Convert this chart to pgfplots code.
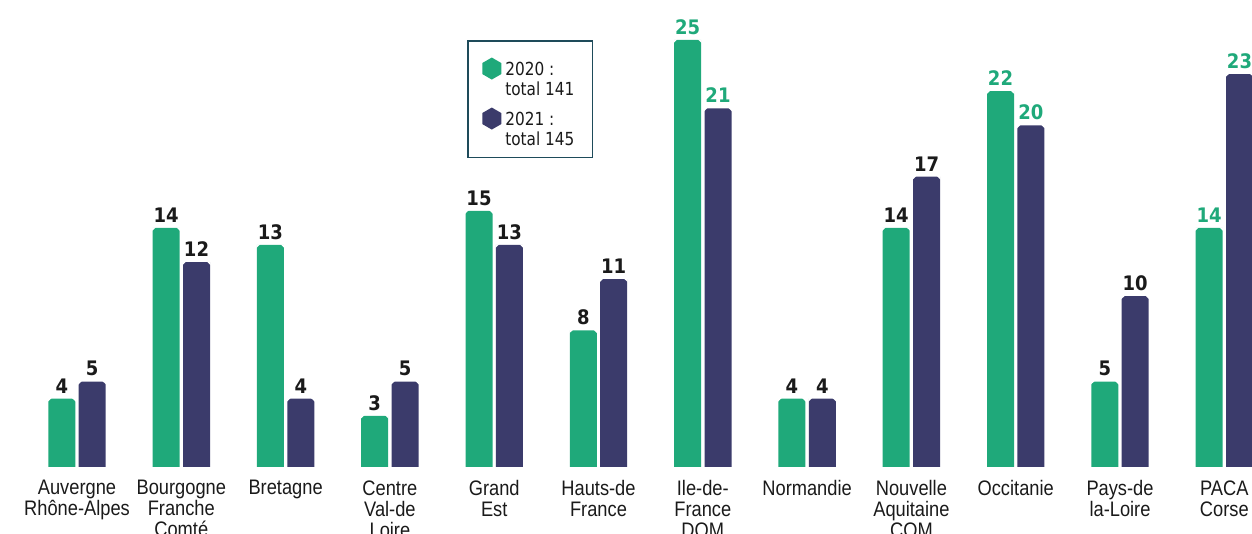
\documentclass[border=0pt]{standalone}
\usepackage{pgfplots}
\pgfplotsset{compat=1.18}
\usepackage{fontspec}
\setmainfont{Liberation Sans}
\newfontfamily\lab[FakeStretch=0.87]{Liberation Sans}
\newfontfamily\valfont[FakeStretch=0.9]{DejaVu Sans}
\newfontfamily\legfont[FakeStretch=0.85]{DejaVu Sans}
\definecolor{cg}{HTML}{1FA97A}
\definecolor{cp}{HTML}{3B3B6B}
\definecolor{cdark}{HTML}{1A1A1A}
\definecolor{cbord}{HTML}{1E4B5A}
\newcommand\chamfer[1]{%
  \pgfpathmoveto{\pgfpoint{#1pt-7pt}{0.3pt}}%
  \pgfpathlineto{\pgfpoint{#1pt-7pt}{-1.5pt}}%
  \pgfpathlineto{\pgfpoint{#1pt-5.1pt}{0.3pt}}%
  \pgfpathclose
  \pgfpathmoveto{\pgfpoint{#1pt+7pt}{0.3pt}}%
  \pgfpathlineto{\pgfpoint{#1pt+7pt}{-1.5pt}}%
  \pgfpathlineto{\pgfpoint{#1pt+5.1pt}{0.3pt}}%
  \pgfpathclose
  \pgfusepathqfill}
\pgfdeclareplotmark{chamG}{\chamfer{-7.6}}
\pgfdeclareplotmark{chamP}{\chamfer{7.6}}
\pgfplotsset{
  hexleg/.style={legend image code/.code={\fill[#1,shift={(5pt,3.3pt)}] (90:5.5pt)--(30:5.5pt)--(-30:5.5pt)--(-90:5.5pt)--(210:5.5pt)--(150:5.5pt)--cycle;}},
  barG/.style={ybar, bar width=13.5pt, bar shift=-7.6pt, fill=cg, draw=none},
  barP/.style={ybar, bar width=13.5pt, bar shift=7.6pt, fill=cp, draw=none},
  vlab/.style 2 args={nodes near coords, nodes near coords style={font=\valfont\bfseries\fontsize{10}{10}\selectfont, text=#1, anchor=south, inner sep=0pt, yshift=2.5pt, xshift=#2}},
}
\begin{document}
\begin{tikzpicture}
\useasboundingbox (0pt,-33.5pt) rectangle (626pt,233.5pt);
\clip (0pt,-33.5pt) rectangle (626pt,233.5pt);
\begin{axis}[
  scale only axis, width=626pt, height=233.5pt,
  xmin=-0.7383, xmax=11.2656, ymin=0, ymax=27.34,
  axis line style={draw=none},
  ytick=\empty,
  xtick={0,1,2,3,4,5,6,7,8,9,10,11},
  major tick length=0pt,
  /pgf/number format/assume math mode=true,
  xticklabels={{Auvergne\\Rhône-Alpes},{Bourgogne\\Franche\\Comté},{Bretagne},{Centre\\Val-de\\Loire},{Grand\\Est},{Hauts-de\\France},{Ile-de-\\France\\DOM},{Normandie},{Nouvelle\\Aquitaine\\COM},{Occitanie},{Pays-de\\la-Loire},{PACA\\Corse}},
  xticklabel style={font=\lab\fontsize{10.5}{10.5}\selectfont, text=cdark, align=center, anchor=north, inner sep=0pt, yshift=-6.5pt},
  clip=false,
  legend style={at={(0.373,0.914)}, anchor=north west, draw=cbord, line width=0.8pt, inner xsep=7pt, inner ysep=6.1pt, font=\legfont\fontsize{9}{10}\selectfont, text=cdark, row sep=0pt, nodes={inner ysep=0pt, text depth=}, cells={anchor=base west}},
]
\addplot[barG, vlab={cdark}{-7.6pt}, hexleg=cg] coordinates {(0,4)(1,14)(2,13)(3,3)(4,15)(5,8)(7,4)(8,14)(10,5)};
\addlegendentry{\rule[-2.2pt]{0pt}{13.2pt}2020 :}
\addlegendimage{empty legend}
\addlegendentry{\rule[-6.2pt]{0pt}{14pt}total 141}
\addplot[barP, vlab={cdark}{7.6pt}, hexleg=cp] coordinates {(0,5)(1,12)(2,4)(3,5)(4,13)(5,11)(7,4)(8,17)(10,10)};
\addlegendentry{\rule[-2.2pt]{0pt}{11pt}2021 :}
\addlegendimage{empty legend}
\addlegendentry{\rule{0pt}{7.8pt}total 145}
\addplot[barG, vlab={cg}{-7.6pt}, forget plot] coordinates {(6,25)(9,22)(11,14)};
\addplot[barP, vlab={cg}{7.6pt}, forget plot] coordinates {(6,21)(9,20)(11,23)};
\addplot[forget plot, only marks, mark=chamG, mark options={fill=white, draw=none}] coordinates {(0,4)(1,14)(2,13)(3,3)(4,15)(5,8)(6,25)(7,4)(8,14)(9,22)(10,5)(11,14)};
\addplot[forget plot, only marks, mark=chamP, mark options={fill=white, draw=none}] coordinates {(0,5)(1,12)(2,4)(3,5)(4,13)(5,11)(6,21)(7,4)(8,17)(9,20)(10,10)(11,23)};
\end{axis}
\end{tikzpicture}
\end{document}
